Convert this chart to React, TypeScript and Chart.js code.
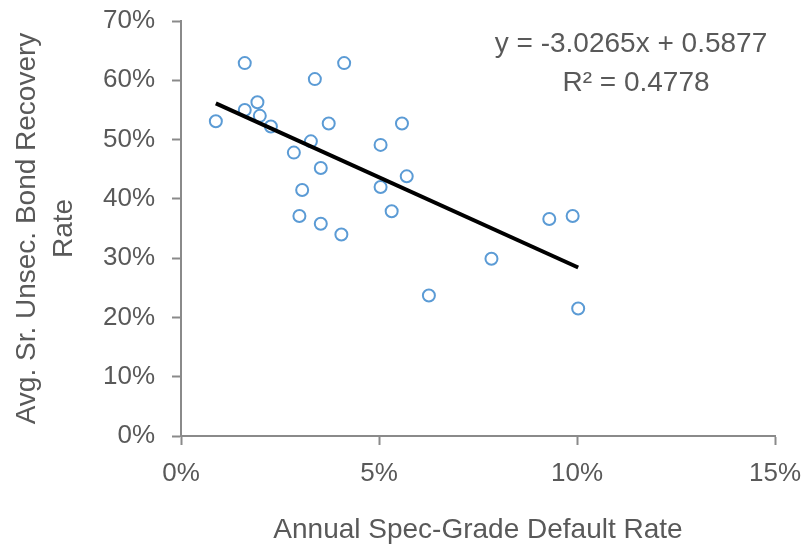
import React, { useEffect, useRef } from "react";
import { Chart, registerables } from "chart.js";

Chart.register(...registerables);

// Annual spec-grade default rate (%)
const defaultRate = [
  0.88, 1.61, 1.61, 1.93, 1.99, 2.27, 3.38, 4.12, 3.73, 3.28, 2.85, 3.53, 3.06,
  2.99, 3.53, 4.05, 5.04, 5.58, 5.7, 5.04, 5.32, 6.26, 7.84, 9.3, 9.89, 10.03,
];
// Avg. Sr. Unsec. bond recovery rate (%)
const recoveryRate = [
  53.1, 62.9, 55.0, 56.3, 54.0, 52.2, 60.2, 62.9, 52.7, 49.7, 47.8, 45.2, 41.5,
  37.1, 35.8, 34.0, 49.1, 52.7, 43.8, 42.0, 37.9, 23.7, 29.9, 36.6, 37.1, 21.5,
];
// Linear trendline (fraction units)
const TREND_SLOPE = -3.0265;
const TREND_INTERCEPT = 0.5877;
const equationLines = ["y = -3.0265x + 0.5877", "R² = 0.4778"];

const X_TICKS = [0, 5, 10, 15];
const X_TITLE = "Annual Spec-Grade Default Rate";
const Y_TITLE = ["Avg. Sr. Unsec. Bond Recovery", "Rate"];

const FONT = "'Liberation Sans', Arial, sans-serif";
const TEXT = "#595959";
const AXIS = "#8a8a8a";

export default function App() {
  const ref = useRef<HTMLCanvasElement | null>(null);

  useEffect(() => {
    if (!ref.current) return;
    const pts = defaultRate.map((x, i) => ({ x, y: recoveryRate[i] }));
    const xMin = Math.min(...defaultRate);
    const xMax = Math.max(...defaultRate);
    const trendY = (x: number) => (TREND_SLOPE * (x / 100) + TREND_INTERCEPT) * 100;
    const trend = [
      { x: xMin, y: trendY(xMin) },
      { x: xMax, y: trendY(xMax) },
    ];

    const equationPlugin = {
      id: "equation",
      afterDatasetsDraw(chart: any) {
        const ctx = chart.ctx;
        ctx.save();
        ctx.fillStyle = TEXT;
        ctx.font = `28px ${FONT}`;
        ctx.textAlign = "center";
        ctx.textBaseline = "alphabetic";
        ctx.fillText(equationLines[0], 631, 52);
        ctx.fillText(equationLines[1], 636, 91);
        ctx.restore();
      },
    };

    const chart = new Chart(ref.current, {
      type: "scatter",
      data: {
        datasets: [
          {
            type: "line",
            data: trend,
            borderColor: "#000000",
            borderWidth: 4,
            pointRadius: 0,
            fill: false,
            order: 0,
          } as any,
          {
            data: pts,
            showLine: false,
            pointStyle: "circle",
            pointRadius: 6,
            pointBorderWidth: 2,
            pointBorderColor: "#5B9BD5",
            pointBackgroundColor: "rgba(0,0,0,0)",
            order: 1,
          },
        ],
      },
      options: {
        animation: false,
        responsive: false,
        layout: { padding: { top: 21, right: 30, left: 0, bottom: 0 } },
        plugins: {
          legend: { display: false },
          tooltip: { enabled: false },
        },
        scales: {
          x: {
            type: "linear",
            min: 0,
            max: 15,
            afterBuildTicks: (s: any) => {
              s.ticks = X_TICKS.map((v) => ({ value: v }));
            },
            afterFit: (s: any) => {
              s.height = 114;
              s.paddingLeft = 0;
              s.paddingRight = 0;
            },
            border: { display: true, color: AXIS, width: 2 },
            grid: {
              display: true,
              drawOnChartArea: false,
              drawTicks: true,
              tickLength: 9,
              tickWidth: 2,
              tickColor: AXIS,
            },
            ticks: {
              color: TEXT,
              font: { family: FONT, size: 26 },
              padding: 13,
              callback: (v: any) => `${v}%`,
            },
            title: {
              display: true,
              text: X_TITLE,
              color: TEXT,
              font: { family: FONT, size: 28 },
              padding: { top: 0, bottom: 3 },
            },
          },
          y: {
            type: "linear",
            min: 0,
            max: 70,
            afterFit: (s: any) => {
              s.width = 181;
              s.paddingTop = 0;
              s.paddingBottom = 0;
            },
            border: { display: true, color: AXIS, width: 2 },
            grid: {
              display: true,
              drawOnChartArea: false,
              drawTicks: true,
              tickLength: 9,
              tickWidth: 2,
              tickColor: AXIS,
            },
            ticks: {
              stepSize: 10,
              color: TEXT,
              font: { family: FONT, size: 26 },
              padding: 17,
              callback: (v: any) => `${v}%`,
            },
            title: {
              display: true,
              text: Y_TITLE,
              color: TEXT,
              font: { family: FONT, size: 28, lineHeight: 1.35 },
              padding: { top: 8, bottom: 0 },
            },
          },
        },
      },
      plugins: [equationPlugin],
    } as any);

    return () => chart.destroy();
  }, []);

  return (
    <div style={{ position: "absolute", left: 0, top: 0, width: 805, height: 550, background: "#ffffff" }}>
      <canvas ref={ref} width={805} height={550} style={{ display: "block" }} />
    </div>
  );
}
